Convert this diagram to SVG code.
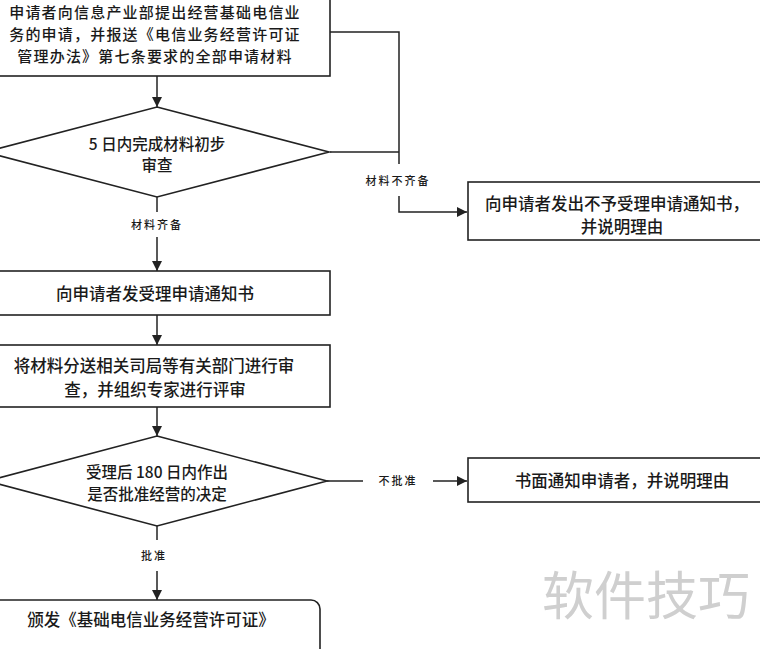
<svg xmlns="http://www.w3.org/2000/svg" width="760" height="649" viewBox="0 0 760 649">
<defs>
<marker id="ah" viewBox="0 0 10 10" refX="10" refY="5" markerWidth="10" markerHeight="10" markerUnits="userSpaceOnUse" orient="auto">
<path d="M0,0 L10,5 L0,10 z" fill="#222"/>
</marker>
<style>
.box{fill:#fff;stroke:#222;stroke-width:1.6}
.t{font-family:"Noto Sans CJK SC","Noto Sans",sans-serif;font-size:16.5px;fill:#1a1a1a;text-anchor:middle;dominant-baseline:central;font-weight:500}
.td{font-size:15.5px}
.tt{font-size:15px;letter-spacing:1.2px}
.lb{font-family:"Noto Sans CJK SC","Noto Sans",sans-serif;font-size:11px;fill:#1a1a1a;text-anchor:middle;dominant-baseline:central;letter-spacing:2px;font-weight:500}
.c{fill:none;stroke:#222;stroke-width:1.5}
.wm{font-family:"Noto Sans CJK SC",sans-serif;font-size:52px;fill:#cfcfcf;text-anchor:middle;dominant-baseline:central}
</style>
</defs>
<rect width="760" height="649" fill="#fff"/>
<g id="connectors">
<path class="c" d="M157,76 V107" marker-end="url(#ah)"/>
<path class="c" d="M330,32 H399 V164"/>
<path class="c" d="M330,152 H399"/>
<path class="c" d="M399,196 V212 H467" marker-end="url(#ah)"/>
<path class="c" d="M157,197 V212"/>
<path class="c" d="M157,237 V271" marker-end="url(#ah)"/>
<path class="c" d="M157,315 V345" marker-end="url(#ah)"/>
<path class="c" d="M157,407 V436" marker-end="url(#ah)"/>
<path class="c" d="M327,481 H363"/>
<path class="c" d="M433,481 H467" marker-end="url(#ah)"/>
<path class="c" d="M157,526 V540"/>
<path class="c" d="M157,571 V600" marker-end="url(#ah)"/>
<text class="lb" x="398" y="180">材料不齐备</text>
<text class="lb" x="157" y="224">材料齐备</text>
<text class="lb" x="398" y="480">不批准</text>
<text class="lb" x="154" y="555">批准</text>
</g>
<g id="n1">
<rect class="box" x="-10" y="-20" width="340" height="96"/>
<text class="t tt" x="155" y="11">申请者向信息产业部提出经营基础电信业</text>
<text class="t tt" x="155" y="33">务的申请，并报送《电信业务经营许可证</text>
<text class="t tt" x="155" y="55">管理办法》第七条要求的全部申请材料</text>
</g>
<g id="d1">
<polygon class="box" points="157,107 329,152 157,197 -15,152"/>
<text class="t td" x="157" y="143">5 日内完成材料初步</text>
<text class="t td" x="157" y="164">审查</text>
</g>
<g id="n_reject1">
<rect class="box" x="468" y="182" width="310" height="58"/>
<text class="t" x="617" y="203">向申请者发出不予受理申请通知书，</text>
<text class="t" x="622" y="226">并说明理由</text>
</g>
<g id="n2">
<rect class="box" x="-10" y="271" width="340" height="44"/>
<text class="t" x="155" y="293">向申请者发受理申请通知书</text>
</g>
<g id="n3">
<rect class="box" x="-10" y="345" width="340" height="62"/>
<text class="t" x="154" y="365">将材料分送相关司局等有关部门进行审</text>
<text class="t" x="155" y="389">查，并组织专家进行评审</text>
</g>
<g id="d2">
<polygon class="box" points="157,436 327,481 157,526 -13,481"/>
<text class="t td" x="157" y="471">受理后 180 日内作出</text>
<text class="t td" x="157" y="493">是否批准经营的决定</text>
</g>
<g id="n_reject2">
<rect class="box" x="468" y="458" width="310" height="44"/>
<text class="t" x="622" y="480">书面通知申请者，并说明理由</text>
</g>
<g id="n4">
<rect class="box" x="-20" y="600" width="340" height="90" rx="9"/>
<text class="t" x="151" y="619">颁发《基础电信业务经营许可证》</text>
</g>
<text class="wm" x="646" y="592">软件技巧</text>
</svg>
